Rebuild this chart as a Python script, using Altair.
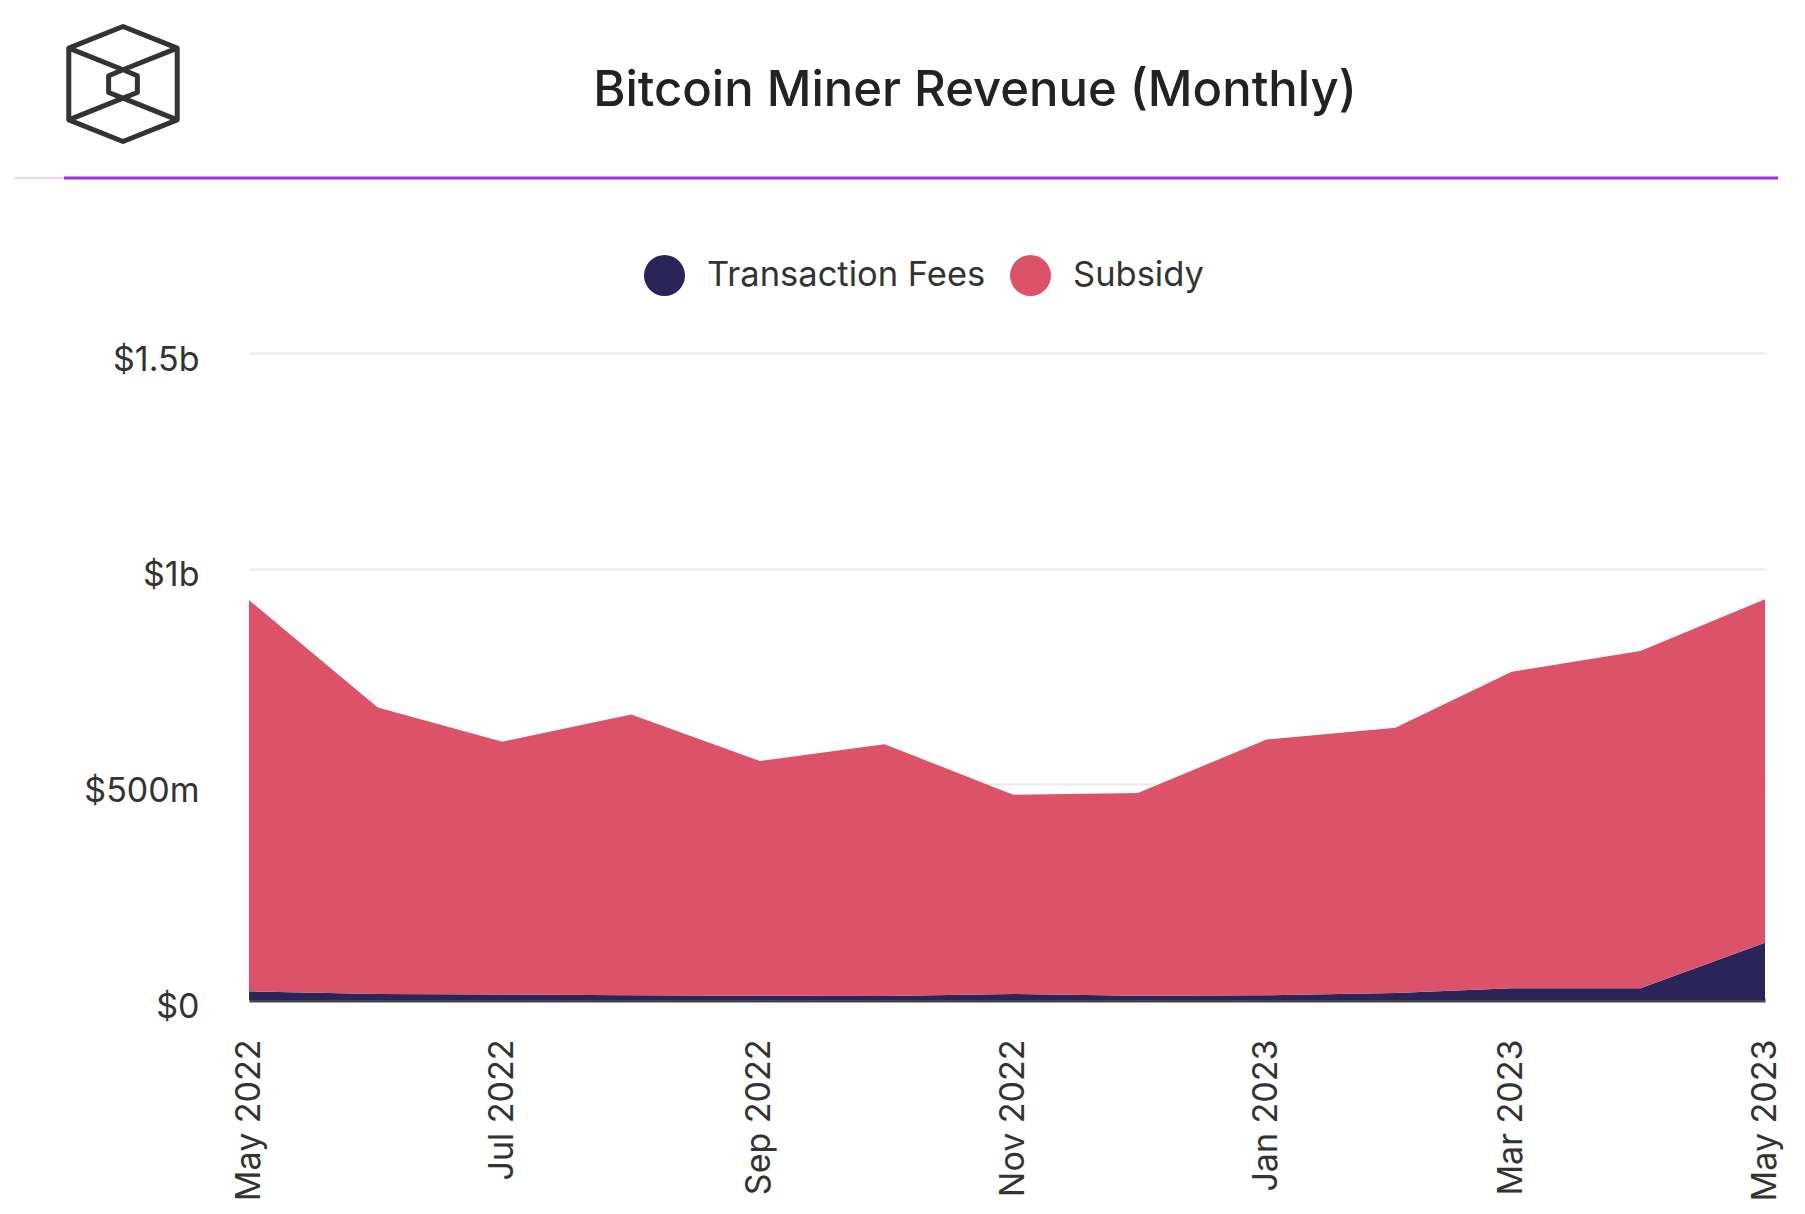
import altair as alt
import pandas as pd

# ---- data (values in millions of USD) ----
months = ["2022-05-01", "2022-06-01", "2022-07-01", "2022-08-01", "2022-09-01",
          "2022-10-01", "2022-11-01", "2022-12-01", "2023-01-01", "2023-02-01",
          "2023-03-01", "2023-04-01", "2023-05-01"]
fees_m = [20, 14, 13, 11, 10, 9, 14, 10, 11, 16, 27, 27, 133]
subsidy_m = [907, 664, 586, 651, 544, 584, 462, 470, 593, 615, 734, 782, 796]
series_names = ["Transaction Fees", "Subsidy"]
series_colors = ["#2a2459", "#dc5369"]
tick_months = [(2022, 5), (2022, 7), (2022, 9), (2022, 11), (2023, 1), (2023, 3), (2023, 5)]
y_ticks = [0, 500, 1000, 1500]
title_text = "Bitcoin Miner Revenue (Monthly)"

rows = []
for m, f, s in zip(months, fees_m, subsidy_m):
    rows.append({"month": m, "series": series_names[0], "value": f, "ord": 0})
    rows.append({"month": m, "series": series_names[1], "value": s, "ord": 1})
df = pd.DataFrame(rows)
one = pd.DataFrame({"k": [0]})

FONT = "Inter"
W, H = 1516, 647

x_enc = alt.X(
    "month:T",
    scale=alt.Scale(type="utc",
                    domain=[alt.DateTime(year=2022, month=5, date=1, utc=True),
                            alt.DateTime(year=2023, month=5, date=1, utc=True)]),
    axis=alt.Axis(
        values=[alt.DateTime(year=y, month=mo, date=1, utc=True) for y, mo in tick_months],
        labelExpr="utcFormat(datum.value, '%b %Y')",
        labelAngle=-90, labelAlign="right", labelBaseline="middle",
        labelFontSize=34, labelFont=FONT, labelColor="#333333",
        labelPadding=39, ticks=False, grid=False,
        domain=True, domainColor="#454545", domainWidth=4,
        title=None, labelOverlap=False,
    ),
)

y_enc = alt.Y(
    "value:Q", stack="zero",
    scale=alt.Scale(domain=[0, 1500], nice=False),
    axis=alt.Axis(
        values=y_ticks,
        labelExpr="datum.value == 0 ? '$0' : (datum.value >= 1000 ? '$' + (datum.value / 1000) + 'b' : '$' + datum.value + 'm')",
        labelFontSize=34, labelFont=FONT, labelColor="#333333",
        labelPadding=50, labelOffset=7, ticks=False, domain=False,
        grid=True, gridColor="#ebebeb", gridWidth=2,
        title=None,
    ),
)

area = alt.Chart(df).mark_area(opacity=1, interpolate="linear").encode(
    x=x_enc,
    y=y_enc,
    color=alt.Color(
        "series:N",
        scale=alt.Scale(domain=series_names, range=series_colors),
        legend=alt.Legend(
            title=None, orient="none", direction="horizontal",
            legendX=395, legendY=-98,
            symbolType="circle", symbolSize=1680, symbolStrokeWidth=0,
            symbolOpacity=1, labelFontSize=34.5, labelFont=FONT,
            labelColor="#333333", labelOffset=22, columnPadding=24,
            labelLimit=0, padding=0,
        ),
    ),
    order=alt.Order("ord:Q", sort="ascending"),
)

header_rule_faint = alt.Chart(one).mark_rule(color="#ead6f8", strokeWidth=2).encode(
    x=alt.value(-235), x2=alt.value(-185), y=alt.value(-175)
)
header_rule = alt.Chart(one).mark_rule(color="#9b2fe6", strokeWidth=3).encode(
    x=alt.value(-185), x2=alt.value(1529), y=alt.value(-175)
)

logo_path = ("M0,-1L0.943,-0.624L0.943,0.623L0,1L-0.943,0.623L-0.943,-0.624Z "
             "M-0.943,-0.624L0,-0.247L0.943,-0.624 "
             "M-0.943,0.623L0,0.245L0.943,0.623 "
             "M0,-0.247L0.25,-0.143L0.25,0.148L0,0.245L-0.25,0.148L-0.25,-0.143Z")
logo = alt.Chart(one).mark_point(
    shape=logo_path, size=13225, filled=False, stroke="#333333",
    strokeWidth=5, opacity=1, strokeJoin="round",
).encode(x=alt.value(-126), y=alt.value(-269))

title = alt.Chart(one).mark_text(
    text=title_text, font=FONT, fontSize=49, fontWeight=500, color="#222222",
    align="center", baseline="middle",
).encode(x=alt.value(726), y=alt.value(-262))

chart = alt.layer(area, header_rule_faint, header_rule, logo, title).properties(
    width=W, height=H,
    autosize=alt.AutoSizeParams(type="none"),
    padding={"left": 241, "top": 345, "right": 32, "bottom": 200},
    background="white",
).configure_view(stroke=None)

chart.save("out.html", embed_options={"renderer": "svg", "actions": False})
